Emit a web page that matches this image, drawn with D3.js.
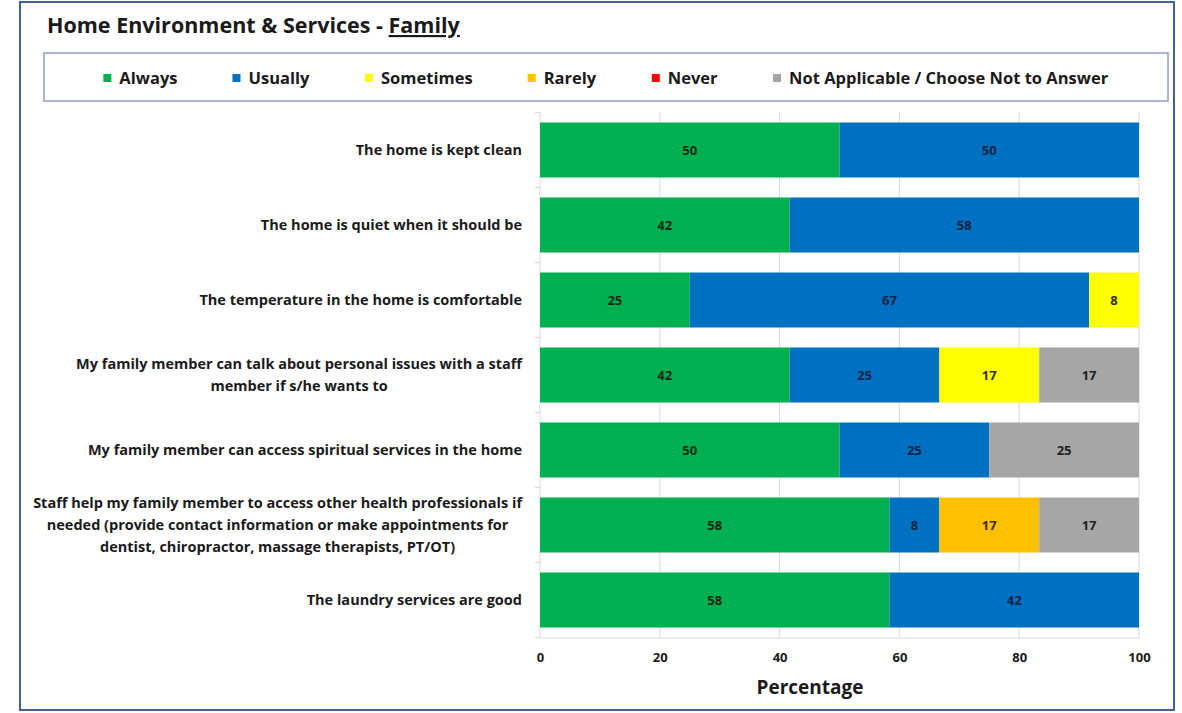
<!DOCTYPE html>
<html>
<head>
<meta charset="utf-8">
<title>Home Environment &amp; Services - Family</title>
<script src="https://cdn.jsdelivr.net/npm/d3@7/dist/d3.min.js"></script>
<style>
  html, body { margin: 0; padding: 0; background: #fff; }
  svg { display: block; font-family: 'Open Sans', sans-serif; }
</style>
</head>
<body>
<div id="chart"></div>
<script>
// survey statements, top to bottom (multi-line labels kept as Excel wrapped them)
const questions = [
  ['The home is kept clean'],
  ['The home is quiet when it should be'],
  ['The temperature in the home is comfortable'],
  ['My family member can talk about personal issues with a staff', 'member if s/he wants to'],
  ['My family member can access spiritual services in the home'],
  ['Staff help my family member to access other health professionals if',
   'needed (provide contact information or make appointments for',
   'dentist, chiropractor, massage therapists, PT/OT)'],
  ['The laundry services are good']
];

const responses = ['Always', 'Usually', 'Sometimes', 'Rarely', 'Never', 'Not Applicable / Choose Not to Answer'];

// percentages per response, one entry per statement
const always    = [50, 41.67, 25, 41.67, 50, 58.33, 58.33];
const usually   = [50, 58.33, 66.67, 25, 25, 8.33, 41.67];
const sometimes = [0, 0, 8.33, 16.67, 0, 0, 0];
const rarely    = [0, 0, 0, 0, 0, 16.67, 0];
const never     = [0, 0, 0, 0, 0, 0, 0];
const notApplicable = [0, 0, 0, 16.67, 25, 16.67, 0];

const xTicks = [0, 20, 40, 60, 80, 100];

const FONT = "'Open Sans', sans-serif";
const COLORS = ['#00b050', '#0070c0', '#ffff00', '#ffc000', '#ff0000', '#a6a6a6'];
const LABEL_COLORS = ['#142a16', '#0e2446', '#333300', '#3a2e00', '#222', '#222'];

const width = 1182, height = 713;

const rows = questions.map((q, i) => {
  const r = { key: i, label: q };
  r[responses[0]] = always[i];
  r[responses[1]] = usually[i];
  r[responses[2]] = sometimes[i];
  r[responses[3]] = rarely[i];
  r[responses[4]] = never[i];
  r[responses[5]] = notApplicable[i];
  return r;
});

const svg = d3.select('#chart').append('svg')
  .attr('width', width)
  .attr('height', height);

// outer chart frame
svg.append('rect')
  .attr('x', 20).attr('y', 2)
  .attr('width', 1154).attr('height', 708)
  .attr('fill', '#fff')
  .attr('stroke', '#46628c')
  .attr('stroke-width', 2);

// title with underlined "Family"
const title = svg.append('text')
  .attr('x', 47).attr('y', 33)
  .attr('font-size', 21.5)
  .attr('font-weight', 700)
  .attr('fill', '#1a1a1a');
title.append('tspan').text('Home Environment & Services - ');
title.append('tspan').attr('text-decoration', 'underline').text('Family');

// legend box
const legendBox = { x: 44, y: 53, w: 1124, h: 48 };
svg.append('rect')
  .attr('x', legendBox.x).attr('y', legendBox.y)
  .attr('width', legendBox.w).attr('height', legendBox.h)
  .attr('fill', '#fff')
  .attr('stroke', '#8d9fbb')
  .attr('stroke-width', 1.5);

const legend = svg.append('g');
const items = legend.selectAll('g.item')
  .data(responses)
  .join('g')
  .attr('class', 'item');

items.append('rect')
  .attr('width', 8).attr('height', 8)
  .attr('y', -4)
  .attr('fill', (d, i) => COLORS[i]);

items.append('text')
  .attr('x', 16)
  .attr('dy', '0.35em')
  .attr('font-size', 16.5)
  .attr('font-weight', 700)
  .attr('fill', '#1a1a1a')
  .text(d => d);

// lay out legend entries in a centred row, Excel style
const gap = 55;
const widths = items.nodes().map(n => n.getBBox().width);
const total = d3.sum(widths) + gap * (widths.length - 1);
let cursor = legendBox.x + (legendBox.w - total) / 2;
items.attr('transform', (d, i) => {
  const t = `translate(${cursor},${legendBox.y + legendBox.h / 2 + 1})`;
  cursor += widths[i] + gap;
  return t;
});

// plot area
const x = d3.scaleLinear().domain([0, 100]).range([540, 1139]);
const y = d3.scaleBand()
  .domain(rows.map(r => r.key))
  .range([112.5, 637.5])
  .paddingInner(0.2667)
  .paddingOuter(0.1333);

// vertical gridlines
svg.append('g')
  .selectAll('line')
  .data(xTicks)
  .join('line')
  .attr('x1', d => x(d)).attr('x2', d => x(d))
  .attr('y1', 112.5).attr('y2', 637.5)
  .attr('stroke', '#d9d9d9')
  .attr('stroke-width', 1);

// bottom axis
const xAxis = svg.append('g')
  .attr('transform', 'translate(0,637.5)')
  .call(d3.axisBottom(x).tickValues(xTicks).tickSize(0).tickPadding(15));
xAxis.select('.domain').attr('stroke', '#e6d8d8');
xAxis.selectAll('text')
  .attr('font-family', FONT)
  .attr('font-size', 13)
  .attr('font-weight', 700)
  .attr('fill', '#1a1a1a');

// little tick marks on the category axis, at band boundaries
const stepBounds = d3.range(rows.length + 1).map(i => 112.5 + i * y.step());
svg.append('g')
  .selectAll('line')
  .data(stepBounds)
  .join('line')
  .attr('x1', 535).attr('x2', 540)
  .attr('y1', d => d).attr('y2', d => d)
  .attr('stroke', '#d9d9d9');

svg.append('text')
  .attr('x', 810).attr('y', 694)
  .attr('text-anchor', 'middle')
  .attr('font-size', 19)
  .attr('font-weight', 700)
  .attr('fill', '#1a1a1a')
  .text('Percentage');

// stacked bars
const series = d3.stack().keys(responses)(rows);

const layers = svg.append('g')
  .selectAll('g')
  .data(series)
  .join('g')
  .attr('fill', (d, i) => COLORS[i]);

layers.selectAll('rect')
  .data(d => d.filter(s => s[1] - s[0] > 0))
  .join('rect')
  .attr('x', d => x(d[0]))
  .attr('y', d => y(d.data.key))
  .attr('width', d => x(d[1]) - x(d[0]))
  .attr('height', y.bandwidth());

// value labels in the middle of each segment
series.forEach((s, i) => {
  svg.append('g')
    .selectAll('text')
    .data(s.filter(d => d[1] - d[0] > 0))
    .join('text')
    .attr('x', d => x((d[0] + d[1]) / 2))
    .attr('y', d => y(d.data.key) + y.bandwidth() / 2)
    .attr('dy', '0.35em')
    .attr('text-anchor', 'middle')
    .attr('font-size', 13)
    .attr('font-weight', 700)
    .attr('fill', LABEL_COLORS[i])
    .text(d => Math.round(d[1] - d[0]));
});

// category labels: right aligned block, lines centred inside it
const lineH = 22;
const catRight = 522;
rows.forEach(r => {
  const g = svg.append('g');
  const cy = y(r.key) + y.bandwidth() / 2;
  const lines = g.selectAll('text')
    .data(r.label)
    .join('text')
    .attr('text-anchor', 'middle')
    .attr('font-size', 14.5)
    .attr('font-weight', 700)
    .attr('fill', '#1a1a1a')
    .attr('dy', '0.35em')
    .attr('y', (d, i) => cy + (i - (r.label.length - 1) / 2) * lineH)
    .text(d => d);
  const maxW = d3.max(lines.nodes(), n => n.getComputedTextLength());
  lines.attr('x', catRight - maxW / 2);
});
</script>
</body>
</html>
